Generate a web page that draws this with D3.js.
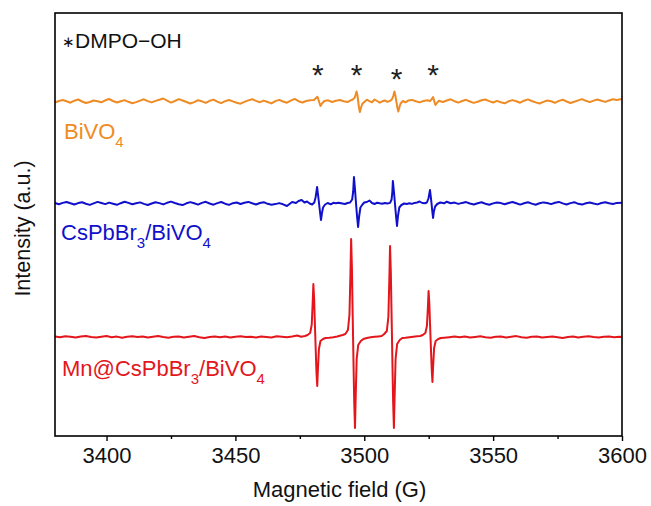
<!DOCTYPE html>
<html>
<head>
<meta charset="utf-8">
<script src="https://cdn.jsdelivr.net/npm/d3@7"></script>
<style>
  html, body { margin: 0; padding: 0; background: #fff; }
  svg { display: block; font-family: "Liberation Sans", Arial, Helvetica, sans-serif; }
</style>
</head>
<body>
<svg id="chart" width="651" height="506"></svg>
<script>
// ---------------- DATA ----------------
const xDomain = [3380, 3600];
const xMajorTicks = [3400, 3450, 3500, 3550, 3600];
const xMinorTicks = [3425, 3475, 3525, 3575];
const yDomain = [0, 423];

const seriesNames = ["BiVO4", "CsPbBr3/BiVO4", "Mn@CsPbBr3/BiVO4"];
const seriesOffsets = [334.5, 232.5, 99];
const seriesColors = ["#EF8B24", "#1010CC", "#E3161C"];
const starFields = [3482, 3497, 3512.5, 3526.7];

// [field (G), intensity (a.u.)]
const bivo4 = [
[3380,-1.0],[3381.5,0.5],[3383,1.5],[3384.5,0.2],[3386,-1.2],[3387.5,0.8],[3389,2.0],[3390.5,0.0],
[3392,-1.5],[3393.5,-0.5],[3395,1.0],[3396.5,0.3],[3398,-0.8],[3399.5,1.2],[3401,2.5],[3402.5,0.5],
[3404,-1.0],[3405.5,0.2],[3407,1.4],[3408.5,-0.3],[3410,-1.8],[3411.5,-0.6],[3413,0.9],[3414.5,2.2],
[3416,0.4],[3417.5,-0.9],[3419,0.6],[3420.5,1.8],[3422,3.0],[3423.5,0.8],[3425,-1.1],[3426.5,0.5],
[3428,2.4],[3429.5,1.0],[3431,-0.5],[3432.5,-2.0],[3434,-0.6],[3435.5,1.3],[3437,0.2],[3438.5,-1.4],
[3440,0.7],[3441.5,1.9],[3443,-0.2],[3444.5,-1.6],[3446,0.3],[3447.5,1.5],[3449,0.1],[3450.5,-1.3],
[3452,-2.2],[3453.5,-0.4],[3455,1.1],[3456.5,2.3],[3458,0.6],[3459.5,-0.7],[3461,0.9],[3462.5,-0.5],
[3464,-1.9],[3465.5,0.4],[3467,1.6],[3468.5,0.0],[3470,-1.2],[3471.5,0.8],[3473,2.6],[3474.5,0.3],
[3476,-1.0],[3477.5,0.5],[3479,1.2],[3480.5,1.5],[3481.3,3.5],[3481.8,4.8],[3482.4,0.5],[3483,-4.5],
[3483.6,-2.0],[3484.5,0.5],[3486,1.2],[3487.5,-0.5],[3489,0.8],[3490.5,1.5],[3492,0.2],[3493.5,-0.6],
[3494.5,0.8],[3495.5,2.0],[3496.2,3.5],[3496.6,6.5],[3497,10],[3497.35,6],[3497.65,0],[3497.95,-6],
[3498.3,-10.5],[3498.7,-6.5],[3499.2,-2.5],[3500,-0.5],[3501,1.8],[3502,0.4],[3503,-0.8],[3504,2.0],
[3505,0.5],[3506,-1.2],[3507,0.2],[3508,1.0],[3509,-0.3],[3510,0.6],[3510.8,2.5],[3511.3,6],
[3511.7,10],[3512.05,6],[3512.45,0],[3512.85,-6],[3513.2,-10],[3513.6,-6],[3514.1,-2],[3515,0.5],
[3516,-0.8],[3517,0.9],[3518.5,1.6],[3520,0.2],[3521.5,-0.9],[3523,0.6],[3524.5,1.3],[3525.5,0.4],
[3526.2,2.5],[3526.7,4.5],[3527.15,0.5],[3527.6,-3.5],[3528.2,-1.5],[3529,0.8],[3530.5,-0.5],[3532,1.0],
[3533.5,2.2],[3535,0.3],[3536.5,-1.1],[3538,0.5],[3539.5,1.7],[3541,0.0],[3542.5,-1.4],[3544,-0.3],
[3545.5,1.2],[3547,2.0],[3548.5,0.4],[3550,-1.0],[3551.5,0.6],[3553,-0.7],[3554.5,-1.8],[3556,0.2],
[3557.5,1.4],[3559,0.3],[3560.5,-1.2],[3562,0.8],[3563.5,2.1],[3565,0.5],[3566.5,-0.9],[3568,-2.0],
[3569.5,-0.4],[3571,1.0],[3572.5,0.2],[3574,-1.3],[3575.5,0.6],[3577,1.8],[3578.5,0.0],[3580,-1.5],
[3581.5,-0.2],[3583,1.1],[3584.5,2.4],[3586,0.7],[3587.5,-0.6],[3589,0.9],[3590.5,2.0],[3592,0.8],
[3593.5,-0.4],[3595,1.0],[3596.5,2.2],[3598,1.5],[3600,2.5]
];

const cspbbr3 = [
[3380,0.5],[3381.5,-0.8],[3383,0.6],[3384.5,1.5],[3386,0.2],[3387.5,-1.0],[3389,0.4],[3390.5,1.2],
[3392,-0.3],[3393.5,-1.4],[3395,0.1],[3396.5,1.6],[3398,0.5],[3399.5,-0.6],[3401,0.9],[3402.5,-0.2],
[3404,-1.3],[3405.5,0.3],[3407,1.8],[3408.5,0.6],[3410,-0.7],[3411.5,0.2],[3413,1.1],[3414.5,-0.4],
[3416,-1.5],[3417.5,0.0],[3419,1.3],[3420.5,0.4],[3422,-0.9],[3423.5,0.7],[3425,1.9],[3426.5,0.5],
[3428,-0.8],[3429.5,-1.6],[3431,0.2],[3432.5,1.4],[3434,0.3],[3435.5,-1.1],[3437,0.6],[3438.5,1.7],
[3440,0.0],[3441.5,-1.2],[3443,0.4],[3444.5,1.5],[3446,-0.2],[3447.5,-1.4],[3449,0.3],[3450.5,1.0],
[3452,-0.5],[3453.5,0.8],[3455,1.6],[3456.5,0.2],[3458,-1.0],[3459.5,0.5],[3461,1.3],[3462.5,-0.3],
[3464,-1.2],[3465.5,-0.6],[3467,0.4],[3468.5,-0.8],[3470,-2.5],[3471,-0.5],[3472,1.5],[3473.5,0.5],
[3474.5,2.5],[3475.7,3.5],[3476.8,1.0],[3477.8,2.0],[3478.8,0.0],[3479.8,-1.0],[3480.6,1.0],[3481.1,6],
[3481.4,11],[3481.7,16.5],[3482.05,9],[3482.45,0],[3482.85,-9],[3483.2,-16.5],[3483.55,-10],[3484,-4],
[3484.8,-1],[3485.8,0.5],[3487,-0.8],[3488,0.7],[3489,0.2],[3490,0.8],[3491,0.3],[3492.5,-0.5],
[3493.5,0.5],[3494.5,1.0],[3495.3,4],[3495.7,12],[3496,26.5],[3496.4,14],[3496.8,0],[3497.2,-13],
[3497.6,-23.5],[3498,-13],[3498.5,-4],[3499.3,-1],[3500,1.0],[3501,1.5],[3502,3.0],[3503,0.5],
[3504,-0.5],[3505,0.8],[3506,0.2],[3507,-0.3],[3508,0.5],[3509,0.0],[3510,0.6],[3510.6,4],
[3510.9,12],[3511.1,22.5],[3511.5,12],[3511.9,0],[3512.3,-12],[3512.7,-22.5],[3513.1,-12],[3513.6,-4],
[3514.4,-1.5],[3515.5,0.0],[3516.5,-0.5],[3517.5,0.3],[3518.5,-0.4],[3519.5,0.6],[3520.5,1.0],[3521.5,2.0],
[3522.5,0.5],[3523.5,0.2],[3524.3,1.0],[3524.9,5],[3525.2,9],[3525.5,13.5],[3525.8,7],[3526.1,0],
[3526.4,-8],[3526.7,-14.5],[3527,-8],[3527.5,-3],[3528.3,-0.5],[3529.5,1.0],[3531,0.2],[3532,1.8],
[3533.5,0.3],[3535,0.9],[3536.5,-0.4],[3538,0.6],[3539.5,1.4],[3541,0.0],[3542.5,-1.0],[3544,0.3],
[3545.5,1.2],[3547,-0.2],[3548.5,-1.3],[3550,0.1],[3551.5,1.0],[3553,0.4],[3554.5,-0.8],[3556,0.5],
[3557.5,1.5],[3559,0.2],[3560.5,-1.1],[3562,0.3],[3563.5,1.2],[3565,-0.1],[3566.5,-1.2],[3568,0.2],
[3569.5,1.1],[3571,0.5],[3572.5,-0.6],[3574,0.8],[3575.5,1.6],[3577,0.1],[3578.5,-1.0],[3580,0.4],
[3581.5,1.3],[3583,-0.3],[3584.5,-1.1],[3586,0.3],[3587.5,1.0],[3589,0.0],[3590.5,-0.9],[3592,0.5],
[3593.5,1.2],[3595,0.2],[3596.5,-0.5],[3598,0.6],[3600,0.8]
];

const mnCspbbr3 = [
[3380,0.5],[3382,-0.3],[3384,0.8],[3386,0.2],[3388,-0.6],[3390,0.4],[3392,1.0],[3394,0.1],
[3396,-0.5],[3398,0.3],[3400,0.9],[3402,-0.2],[3404,0.4],[3406,-0.8],[3408,0.2],[3410,0.7],
[3412,-0.1],[3414,0.5],[3416,-0.6],[3418,0.3],[3420,1.1],[3422,0.0],[3424,-0.7],[3426,0.2],
[3428,0.6],[3430,-0.4],[3432,0.3],[3434,0.9],[3436,-0.2],[3438,-0.9],[3440,0.1],[3442,0.6],
[3444,-0.3],[3446,0.4],[3448,-0.5],[3450,0.2],[3452,0.8],[3454,-0.1],[3456,0.3],[3458,-0.6],
[3460,0.5],[3462,0.1],[3464,-0.4],[3466,0.7],[3468,0.2],[3470,-0.3],[3472,0.4],[3474,1.5],
[3475.5,0.3],[3477,1],[3478,2],[3479,4],[3479.6,12],[3480,35],[3480.25,53],[3480.55,38],
[3480.8,16],[3481,0],[3481.2,-16],[3481.45,-35],[3481.75,-49],[3482,-33],[3482.4,-12],[3483,-4],
[3484,-2],[3485,-1],[3486.5,-0.8],[3488,-0.2],[3489.5,0.5],[3490.5,1.2],[3491.65,2],[3492.65,3],
[3493.65,7],[3494.25,22],[3494.65,65],[3494.9,98],[3495.2,70],[3495.45,30],[3495.65,0],[3495.85,-30],
[3496.1,-65],[3496.4,-91],[3496.65,-62],[3497.05,-22],[3497.65,-8],[3498.65,-4],[3499.65,-2],[3501,-1.0],
[3502.5,-0.3],[3504,0.2],[3505.5,0.6],[3506.75,1],[3507.75,3],[3508.75,6],[3509.35,20],[3509.75,60],
[3510,91],[3510.3,65],[3510.55,28],[3510.75,0],[3510.95,-30],[3511.2,-65],[3511.5,-91],[3511.75,-62],
[3512.15,-22],[3512.75,-7],[3513.75,-3],[3514.75,-1],[3516,-0.8],[3517.5,-0.2],[3519,0.3],[3520.5,0.8],
[3521.7,1],[3522.7,2],[3523.7,4],[3524.3,11],[3524.7,30],[3524.95,46],[3525.25,33],[3525.5,14],
[3525.7,0],[3525.9,-14],[3526.15,-31],[3526.45,-45],[3526.7,-30],[3527.1,-11],[3527.7,-4],[3528.7,-2],
[3529.7,-1],[3531,-0.7],[3533,-0.2],[3535,0.4],[3537,-0.3],[3539,0.5],[3541,-0.6],[3543,0.1],
[3545,0.7],[3547,-0.2],[3549,-0.8],[3551,0.3],[3553,0.6],[3555,-0.4],[3557,0.2],[3559,0.9],
[3561,-0.3],[3563,-0.7],[3565,0.2],[3567,0.5],[3569,-0.5],[3571,0.1],[3573,0.6],[3575,-0.2],
[3577,-0.9],[3579,0.0],[3581,0.5],[3583,-0.4],[3585,0.3],[3587,0.8],[3589,-0.1],[3591,-0.6],
[3593,0.2],[3595,0.6],[3597,-0.2],[3599,0.3],[3600,0.1]
];

const spectra = [bivo4, cspbbr3, mnCspbbr3];

// ---------------- LAYOUT ----------------
const margin = { left: 55, top: 13, right: 29, bottom: 70 };
const W = 651, H = 506;
const plotW = W - margin.left - margin.right;
const plotH = H - margin.top - margin.bottom;

const svg = d3.select("#chart");
const x = d3.scaleLinear().domain(xDomain).range([margin.left, margin.left + plotW]);
const y = d3.scaleLinear().domain(yDomain).range([margin.top + plotH, margin.top]);

const line = d3.line().x(d => x(d[0])).y(d => y(d[1]));

// spectra
spectra.forEach((s, i) => {
  svg.append("path")
    .datum(s.map(d => [d[0], d[1] + seriesOffsets[i]]))
    .attr("fill", "none")
    .attr("stroke", seriesColors[i])
    .attr("stroke-width", 2)
    .attr("stroke-linejoin", "round")
    .attr("d", line);
});

// frame
svg.append("rect")
  .attr("x", margin.left).attr("y", margin.top)
  .attr("width", plotW).attr("height", plotH)
  .attr("fill", "none").attr("stroke", "#000").attr("stroke-width", 1.6);

// x axis
const xAxis = d3.axisBottom(x).tickValues(xMajorTicks).tickSize(5).tickPadding(6).tickFormat(d3.format("d"));
const gx = svg.append("g").attr("transform", `translate(0,${margin.top + plotH})`).call(xAxis);
gx.select(".domain").remove();
gx.selectAll(".tick line").attr("stroke", "#000").attr("stroke-width", 1.4);
gx.selectAll(".tick text").attr("font-size", 22).attr("font-family", "Liberation Sans, Arial, sans-serif").attr("fill", "#111");
const gxm = svg.append("g").attr("transform", `translate(0,${margin.top + plotH})`)
  .call(d3.axisBottom(x).tickValues(xMinorTicks).tickSize(3).tickFormat(""));
gxm.select(".domain").remove();
gxm.selectAll(".tick line").attr("stroke", "#000").attr("stroke-width", 1.4);

// axis titles
svg.append("text")
  .attr("x", margin.left + plotW / 2 + 1).attr("y", 497)
  .attr("text-anchor", "middle").attr("font-size", 22).attr("fill", "#111")
  .text("Magnetic field (G)");
svg.append("text")
  .attr("transform", `translate(30,${margin.top + plotH / 2 + 4}) rotate(-90)`)
  .attr("text-anchor", "middle").attr("font-size", 21.5).attr("fill", "#111")
  .text("Intensity (a.u.)");

// DMPO-OH marker
const leg = svg.append("text").attr("x", 62).attr("y", 48).attr("font-size", 21).attr("fill", "#111");
leg.append("tspan").attr("font-size", 15).attr("dy", -1).text("∗");
leg.append("tspan").attr("dy", 1).text("DMPO−OH");

// stars
svg.selectAll(".star").data(starFields).enter().append("text")
  .attr("class", "star")
  .attr("x", d => x(d))
  .attr("y", (d, i) => i === 2 ? 89 : 85)
  .attr("text-anchor", "middle").attr("font-size", 30).attr("fill", "#222")
  .text("*");

// series labels with subscripts
function labelParts(name) {
  return name.split(/(\d)/).filter(p => p.length);
}
const labelPos = [[64, 139], [61, 240], [62, 376]];
seriesNames.forEach((name, i) => {
  const t = svg.append("text").attr("x", labelPos[i][0]).attr("y", labelPos[i][1])
    .attr("font-size", 22).attr("fill", seriesColors[i]);
  let shifted = false;
  labelParts(name).forEach(p => {
    if (/^\d$/.test(p)) {
      t.append("tspan").attr("font-size", 15).attr("dy", 7.5).text(p);
      shifted = true;
    } else {
      const ts = t.append("tspan").text(p);
      if (shifted) { ts.attr("dy", -7.5); shifted = false; }
    }
  });
});
</script>
</body>
</html>
